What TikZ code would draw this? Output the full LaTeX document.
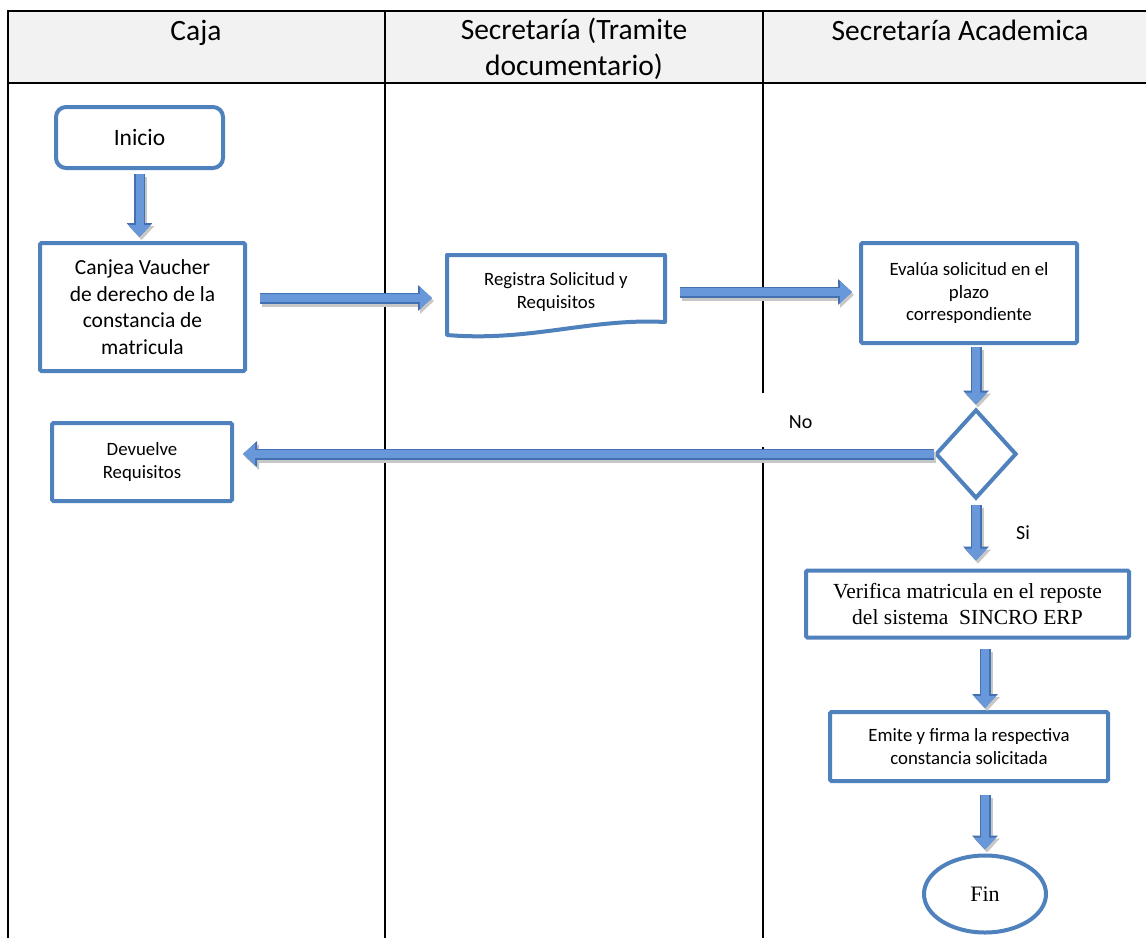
\documentclass[tikz,border=0pt]{standalone}
\usepackage{fontspec}
\setmainfont{Carlito}
\newfontfamily\serifa{Liberation Serif}
\usetikzlibrary{arrows.meta,shapes.geometric}
\definecolor{bordeazul}{RGB}{79,129,189}
\definecolor{flechaazul}{RGB}{104,152,218}
\definecolor{flechaborde}{RGB}{66,112,176}
\definecolor{grisclaro}{RGB}{242,242,242}
\tikzset{
	linea/.style={line width=2pt, black},
	titulo/.style={inner sep=0pt, align=center, font=\fontsize{29.5}{36}\selectfont},
	proceso/.style={draw=bordeazul, line width=4pt, fill=white, align=center, inner sep=2pt, rounded corners=1.5pt},
	texto/.style={font=\fontsize{18.8}{22.5}\selectfont},
	etiqueta/.style={inner sep=0pt, font=\fontsize{20}{24}\selectfont},
	flecha/.style={line width=8pt, draw=flechaazul, -{Triangle[length=12pt,width=21pt]},
		preaction={draw=black!22, line width=11pt, transform canvas={shift={(2pt,-3pt)}}, -{Triangle[length=14pt,width=25pt]}},
		preaction={draw=flechaborde, line width=11pt, -{Triangle[length=14pt,width=25pt]}}},
}
\begin{document}
\begin{tikzpicture}[x=1pt,y=-1pt]
	\fill[white] (0,0) rectangle (1146,938);
	\useasboundingbox (0,0) rectangle (1146,938);
	% Carriles
	\fill[grisclaro] (8,11) rectangle (1146,83);
	\draw[linea] (1146,11) -- (8,11) -- (8,938);
	\draw[linea] (8,83) -- (1146,83);
	\draw[linea] (385,11) -- (385,938);
	\draw[linea] (763,11) -- (763,393);
	\draw[linea] (763,447) -- (763,938);
	\node[titulo, anchor=base] (caja) at (196,40) {Caja};
	\node[titulo, anchor=north] (tramite) at (574,18) {Secretaría (Tramite\\documentario)};
	\node[titulo, anchor=base] (academica) at (960,40) {Secretaría Academica};
	% Caja
	\node[proceso, rounded corners=10pt, minimum width=167pt, minimum height=61pt, font=\fontsize{23.5}{27}\selectfont] (inicio) at (139.5,137.5) {Inicio};
	\node[proceso, minimum width=205pt, minimum height=128pt, font=\fontsize{21.5}{26.5}\selectfont] (canjea) at (142.5,307) {Canjea Vaucher\\de derecho de la\\constancia de\\matricula};
	\node[proceso, texto, minimum width=180pt, minimum height=78pt] (devuelve) at (142,462) {Devuelve\\Requisitos};
	% Secretaria (Tramite documentario)
	\node[texto, align=center, inner sep=0pt, outer sep=0pt, minimum width=218pt, minimum height=74pt] (registra) at (556,292) {Registra Solicitud y\\Requisitos};
	\draw[draw=bordeazul, line width=4pt, line join=round] ([yshift=-6pt]registra.south west) -- (registra.north west) -- (registra.north east) -- ([yshift=7pt]registra.south east) .. controls ([xshift=-75pt,yshift=11pt]registra.south east) and ([xshift=83pt,yshift=-13pt]registra.south west) .. ([yshift=-6pt]registra.south west) -- cycle;
	% Secretaria Academica
	\node[proceso, texto, minimum width=216pt, minimum height=100pt] (evalua) at (969,293) {Evalúa solicitud en el\\plazo\\correspondiente};
	\node[draw=bordeazul, line width=4pt, shape=diamond, inner sep=0pt, minimum width=81pt, minimum height=89pt] (decision) at (976,454) {};
	\node[proceso, minimum width=323pt, minimum height=67pt, font=\serifa\fontsize{21.5}{26}\selectfont] (verifica) at (967.5,604) {Verifica matricula en el reposte\\del sistema~ SINCRO ERP};
	\node[proceso, texto, minimum width=278pt, minimum height=69pt] (emite) at (969,746.5) {Emite y firma la respectiva\\constancia solicitada};
	\node[draw=bordeazul, line width=4pt, shape=ellipse, inner sep=0pt, minimum width=122pt, minimum height=77pt, font=\serifa\fontsize{22}{26}\selectfont] (fin) at (985,894) {Fin};
	% Flechas
	\draw[flecha, shorten <=4pt, shorten >=4pt] (inicio.south) -- (inicio.south |- canjea.north);
	\draw[flecha, shorten <=13pt, shorten >=15pt] ([yshift=9pt]canjea.east) -- ([yshift=9pt]canjea.east -| registra.west);
	\draw[flecha, shorten <=15pt, shorten >=7pt] (registra.east) -- (registra.east -| evalua.west);
	\draw[flecha, shorten <=2pt, shorten >=3pt] (decision.north |- evalua.south) -- (decision.north);
	\draw[flecha, shorten >=9pt] (decision.west) -- (decision.west -| devuelve.east) node[etiqueta, pos=0.19, yshift=32pt] (no) {No};
	\draw[flecha, shorten <=4pt, shorten >=8pt] (decision.south) -- (decision.south |- verifica.north) node[etiqueta, pos=0.48, xshift=47pt] (si) {Si};
	\draw[flecha, shorten <=9pt, shorten >=2pt] (verifica.south -| fin.north) -- (emite.north -| fin.north);
	\draw[flecha, shorten <=12pt, shorten >=4pt] (emite.south -| fin.north) -- (fin.north);
\end{tikzpicture}
\end{document}
